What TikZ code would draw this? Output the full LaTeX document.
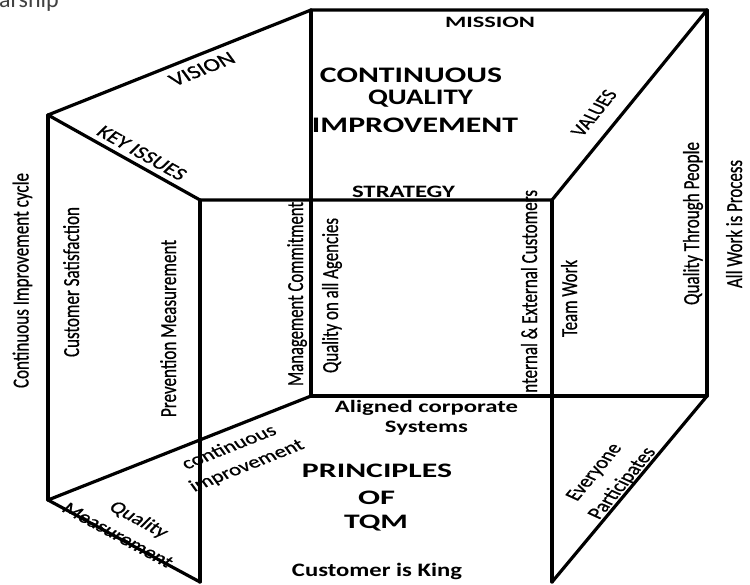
\documentclass[tikz,border=0pt]{standalone}
\usepackage{fontspec}
\setmainfont{Carlito}
\newfontfamily\medfont[FakeBold=0.7]{Carlito}
\usepackage{graphicx}
\newcommand{\hbx}[3]{\resizebox{#1pt}{\height}{\fontsize{#2}{#2}\selectfont\bfseries #3}}
\newcommand{\vtx}[2]{\resizebox{#1pt}{1.35\height}{\fontsize{17}{17}\selectfont\medfont #2}}
\tikzset{
  edge/.style={line width=3.2pt, line cap=round, line join=round},
  hlbl/.style={inner sep=0pt, outer sep=0pt, anchor=base},
  vlbl/.style={inner sep=0pt, outer sep=0pt, anchor=base, rotate=90},
  dlbl/.style={inner sep=0pt, outer sep=0pt, anchor=center, font=\fontsize{17}{17}\selectfont\medfont},
}
\begin{document}
\begin{tikzpicture}[x=1pt, y=-1pt]
\fill[white] (0,0) rectangle (750,584);
\useasboundingbox (0,0) rectangle (750,584);
\begin{scope}
\clip (0,0) rectangle (750,584);
\node[anchor=base west, inner sep=0pt, text=black!75, font=\fontsize{24}{24}\selectfont] (hdr) at (-1,7.5) {arship};
\end{scope}
% corners
\coordinate (A) at (311,10);
\coordinate (B) at (707,10);
\coordinate (C) at (48,115);
\coordinate (D) at (200,200);
\coordinate (E) at (552,200);
\coordinate (F) at (311,396);
\coordinate (G) at (707,396);
\coordinate (H) at (48,500);
\coordinate (J) at (200,582);
\coordinate (K) at (552,582);
% edges
\draw[edge] (C) -- (A) -- (B) -- (E) -- (D) -- cycle;
\draw[edge] (A) -- (F);
\draw[edge] (B) -- (G);
\draw[edge] (C) -- (H);
\draw[edge] (D) -- (J);
\draw[edge] (E) -- (K);
\draw[edge] (F) -- (G);
\draw[edge] (H) -- (F);
\draw[edge] (H) -- (J);
\draw[edge] (G) -- (K);
% horizontal bold labels
\node[hlbl] (mission) at (490,27.7) {\hbx{90}{15.8}{MISSION}};
\node[hlbl] (cq1) at (411,82.3) {\hbx{182}{22.2}{CONTINUOUS}};
\node[hlbl] (cq2) at (420.5,104) {\hbx{105}{22.2}{QUALITY}};
\node[hlbl] (cq3) at (415,132.3) {\hbx{206}{22.2}{IMPROVEMENT}};
\node[hlbl] (strategy) at (403.5,197) {\hbx{103}{17.4}{STRATEGY}};
\node[hlbl] (acs1) at (426.5,412) {\hbx{183}{17.4}{Aligned corporate}};
\node[hlbl] (acs2) at (426.5,432) {\hbx{83}{17.4}{Systems}};
\node[hlbl] (pt1) at (377,477) {\hbx{150}{20.6}{PRINCIPLES}};
\node[hlbl] (pt2) at (376.5,504) {\hbx{37}{20.6}{OF}};
\node[hlbl] (pt3) at (376,528) {\hbx{64}{20.6}{TQM}};
\node[hlbl] (king) at (377,576) {\hbx{170}{19}{Customer is King}};
% vertical labels
\node[vlbl] (v1) at (28.5,280.5) {\vtx{215}{Continuous Improvement cycle}};
\node[vlbl] (v2) at (79,282) {\vtx{150}{Customer Satisfaction}};
\node[vlbl] (v3) at (176,328.5) {\vtx{177}{Prevention Measurement}};
\node[vlbl] (v4) at (303,294) {\vtx{184}{Management Commitment}};
\node[vlbl] (v5) at (338,295.5) {\vtx{155}{Quality on all Agencies}};
\node[vlbl] (v6) at (537,293.5) {\vtx{207}{Internal \& External Customers}};
\node[vlbl] (v7) at (577,298.5) {\vtx{77}{Team Work}};
\node[vlbl] (v8) at (699,223.5) {\vtx{163}{Quality Through People}};
\node[vlbl] (v9) at (742,224) {\vtx{128}{All Work is Process}};
% diagonal labels
\node[dlbl, font=\fontsize{18.5}{18.5}\selectfont\medfont, xscale=1.35, rotate=28.4] (vision) at (202,69) {VISION};
\node[dlbl, font=\fontsize{17.5}{17.5}\selectfont\medfont, xscale=1.35, rotate=-37] (keyissues) at (142,153) {KEY ISSUES};
\node[dlbl, font=\fontsize{16.5}{16.5}\selectfont\medfont, xscale=1.35, rotate=58.9] (values) at (594,113) {VALUES};
\node[dlbl, xscale=1.35, rotate=28.1] (ci1) at (228.5,446.5) {continuous};
\node[dlbl, xscale=1.35, rotate=28.1] (ci2) at (247,466) {improvement};
\node[dlbl, xscale=1.35, rotate=-36.1] (qm1) at (138.5,520) {Quality};
\node[dlbl, xscale=1.35, rotate=-36.1] (qm2) at (118,535) {Measurement};
\node[dlbl, xscale=1.35, rotate=58.3] (ep1) at (595,472.5) {Everyone};
\node[dlbl, xscale=1.35, rotate=58.3] (ep2) at (622.5,483.5) {Participates};
\end{tikzpicture}
\end{document}
